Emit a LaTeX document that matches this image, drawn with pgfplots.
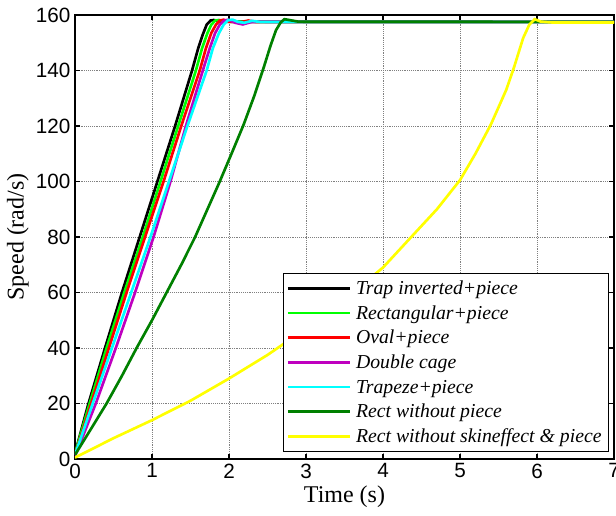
\documentclass[border=0pt]{standalone}
\usepackage{fontspec}
\setmainfont{Liberation Serif}
\newfontfamily\arialfont{Liberation Sans}
\usepackage{pgfplots}
\pgfplotsset{compat=1.18}

\definecolor{mgreen}{rgb}{0,1,0}
\definecolor{mmag}{rgb}{0.75,0,0.75}
\definecolor{mcyan}{rgb}{0,1,1}
\definecolor{mdgreen}{rgb}{0,0.5,0}
\definecolor{myellow}{rgb}{1,1,0}

\begin{document}
\begin{tikzpicture}
\begin{axis}[
  scale only axis, width=404.25pt, height=333pt,
  xmin=0, xmax=7, ymin=0, ymax=160,
  xtick={0,1,...,7}, ytick={0,20,...,160},
  grid=major,
  major grid style={densely dotted, black!50, line width=0.5pt},
  tick align=inside, major tick length=4pt,
  tick style={black, line width=0.8pt},
  axis line style={line width=0.9pt},
  ticklabel style={font=\arialfont\fontsize{15.5}{15.5}\selectfont},
  /pgf/number format/assume math mode=true,
  xlabel={Time (s)}, ylabel={Speed (rad/s)},
  label style={font=\fontsize{18}{18}\selectfont},
  xlabel style={at={(axis description cs:0.5,-0.0856)}, anchor=center},
  ylabel style={at={(axis description cs:-0.1058,0.5)}, anchor=center},
  legend style={at={(1,0)}, anchor=south east, xshift=-3.75pt, yshift=5.25pt,
    draw=black, line width=0.8pt, fill=white,
    font=\fontsize{14.8}{14.8}\selectfont\itshape,
    cells={anchor=west}, inner xsep=2pt, inner ysep=2pt, row sep=0pt,
    nodes={text height=13.8pt, text depth=4.7pt, inner ysep=0pt, inner xsep=3.2pt}},
  legend image code/.code={\path (-4pt,0pt) -- (43pt,0pt); \draw[#1] (0pt,0pt) -- (43pt,0pt);},
  every axis plot/.append style={line width=2pt},
]
% Trap inverted + piece
\addplot[black] coordinates {(0,2) (0.17,19.5) (0.39,40) (0.61,60) (0.84,80) (1.07,100) (1.30,120) (1.52,140) (1.60,148) (1.66,153) (1.71,156.5) (1.76,158) (1.80,158.2) (1.9,157.6) (7,157.5)};
% Rectangular + piece
\addplot[mgreen] coordinates {(0,2) (0.19,20) (0.41,40) (0.64,60) (0.88,80) (1.11,100) (1.34,120) (1.57,140) (1.65,148) (1.72,153.5) (1.77,156.5) (1.82,158) (1.87,158.2) (1.95,157.6) (7,157.5)};
% Oval + piece
\addplot[red] coordinates {(0,1.5) (0.21,20) (0.44,40) (0.67,60) (0.91,80) (1.15,100) (1.38,120) (1.62,140) (1.70,148) (1.77,153.5) (1.83,156.5) (1.88,158) (1.93,158.3) (2.0,157.6) (2.15,157.4) (2.25,158) (2.35,157.5) (7,157.5)};
% Double cage
\addplot[mmag] coordinates {(0,1) (0.27,20) (0.53,40) (0.78,60) (1.02,80) (1.24,100) (1.44,120) (1.66,140) (1.75,148) (1.82,153.5) (1.88,156.5) (1.94,158) (1.99,158.3) (2.08,157.2) (2.18,156.6) (2.28,157.4) (2.4,157.6) (7,157.5)};
% Trapeze + piece
\addplot[mcyan] coordinates {(0,1.5) (0.23,20) (0.48,40) (0.73,60) (0.98,80) (1.22,100) (1.46,120) (1.71,140) (1.79,148) (1.87,153.5) (1.93,156.5) (1.99,158.2) (2.05,158.3) (2.12,157.5) (2.2,157.2) (2.3,157.9) (2.4,157.5) (7,157.5)};
% Rect without piece
\addplot[mdgreen] coordinates {(0,1.5) (0.2,10.5) (0.41,20) (0.61,30) (0.8,40) (1.0,50) (1.19,60) (1.38,70) (1.56,80) (1.72,90) (1.88,100) (2.04,110.5) (2.19,120.5) (2.33,131) (2.45,141) (2.54,149) (2.61,154.5) (2.67,157.3) (2.72,158.5) (2.78,158.2) (2.9,157.6) (7,157.5)};
% Rect without skin effect & piece
\addplot[myellow] coordinates {(0,0.5) (0.25,4) (0.5,7.5) (1,14) (1.5,21) (2,29) (2.5,37.5) (3,47) (3.5,57.5) (4,69) (4.4,81) (4.7,90) (5,100.5) (5.2,110) (5.4,120.5) (5.6,133) (5.7,141) (5.82,151.7) (5.9,156.5) (5.97,158.5) (6.05,157.6) (6.2,157.3) (7,157.3)};
\legend{Trap inverted+piece, Rectangular+piece, Oval+piece, Double cage, Trapeze+piece, Rect without piece, Rect without skineffect \& piece}
\end{axis}
\pgfresetboundingbox
\path[use as bounding box] ([shift={(-56.25pt,-42pt)}]current axis.south west) rectangle ([shift={(1.5pt,11.25pt)}]current axis.north east);
\end{tikzpicture}
\end{document}
